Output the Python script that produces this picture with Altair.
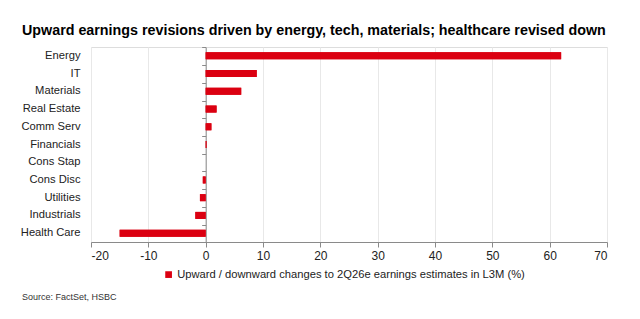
import altair as alt
import pandas as pd

sectors = ["Energy", "IT", "Materials", "Real Estate", "Comm Serv", "Financials",
           "Cons Stap", "Cons Disc", "Utilities", "Industrials", "Health Care"]
values = [62.0, 8.9, 6.2, 1.9, 1.0, 0.15, 0.0, -0.5, -1.0, -1.8, -15.0]
series_name = "Upward / downward changes to 2Q26e earnings estimates in L3M (%)"
x_ticks = [-20, -10, 0, 10, 20, 30, 40, 50, 60, 70]

df = pd.DataFrame({"sector": sectors, "value": values, "series": series_name})

FONT = "Liberation Sans"
RED = "#DB0011"
W, H = 516, 195
LEFT = 91
zero_off = (0 - x_ticks[0]) / (x_ticks[-1] - x_ticks[0]) * W

x_enc = alt.X("value:Q", scale=alt.Scale(domain=[x_ticks[0], x_ticks[-1]], nice=False),
              axis=alt.Axis(values=x_ticks, title=None, grid=True, gridColor="#e8e8e8",
                            domainColor="#8a8a8a", tickColor="#8a8a8a", tickSize=5,
                            labelFont=FONT, labelFontSize=12, labelColor="#222",
                            labelPadding=3,
                            labelExpr="datum.value < 0 ? '-' + abs(datum.value) : '' + datum.value"))
color_enc = alt.Color("series:N", scale=alt.Scale(range=[RED]),
                      legend=alt.Legend(title=None, orient="none", legendX=72, legendY=222,
                                        symbolType="square", symbolSize=45, labelLimit=0,
                                        labelFont=FONT, labelFontSize=11.2, labelColor="#222",
                                        labelOffset=3, padding=0, symbolStrokeWidth=0))

bars = alt.Chart(df).mark_bar(size=7).encode(
    x=x_enc,
    y=alt.Y("sector:N", sort=sectors,
            axis=alt.Axis(title=None, domain=False, ticks=False, labelFont=FONT,
                          labelFontSize=11.2, labelColor="#222", labelPadding=11)),
    color=color_enc,
)

bars_zero = alt.Chart(df).mark_bar(size=7).encode(
    x=alt.X("value:Q"),
    y=alt.Y("sector:N", sort=sectors,
            axis=alt.Axis(title=None, orient="left", offset=-zero_off, labels=False,
                          domain=True, domainColor="#8a8a8a", ticks=True,
                          tickColor="#8a8a8a", tickSize=4, bandPosition=0, grid=False)),
    color=alt.Color("series:N"),
)

source = alt.Chart(pd.DataFrame({"t": ["Source: FactSet, HSBC"]})).mark_text(
    align="left", baseline="middle", font=FONT, fontSize=9, fontWeight="normal",
    color="#333").encode(
    x=alt.value(22 - LEFT), y=alt.value(250), text=alt.Text("t:N")
)

chart = alt.layer(bars, bars_zero, source).resolve_axis(y="independent").properties(
    width=W, height=H,
    autosize=alt.AutoSizeParams(type="none"),
    padding={"left": LEFT, "top": 47, "right": 640 - LEFT - W, "bottom": 319 - 47 - H},
    title=alt.TitleParams("Upward earnings revisions driven by energy, tech, materials; healthcare revised down",
                          anchor="start", frame="group", dx=22 - LEFT, offset=8,
                          font=FONT, fontSize=14.3, fontWeight="bold", color="#000"),
).configure_view(stroke=None).configure(background="white")

chart.save("out.html", embed_options={"renderer": "svg", "actions": False})
